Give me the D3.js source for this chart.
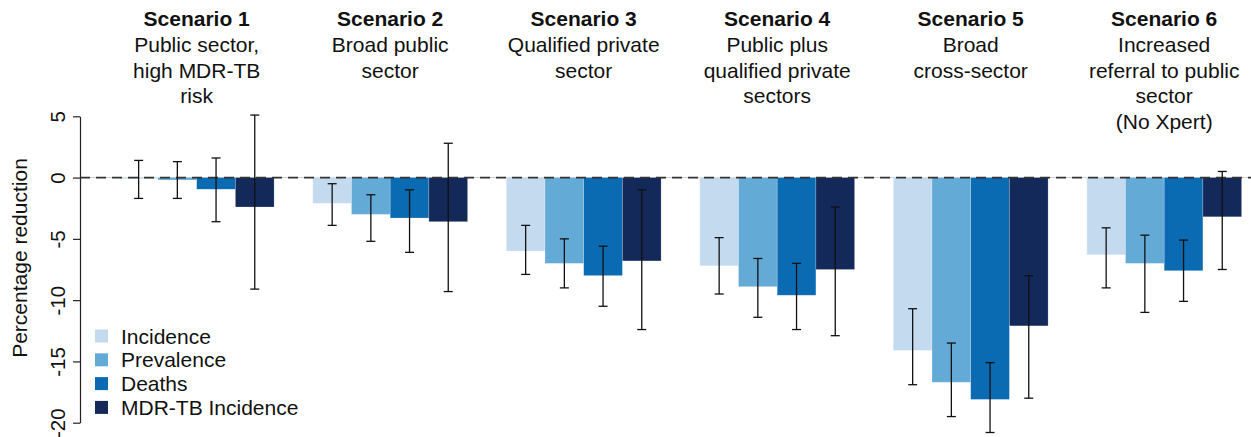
<!DOCTYPE html>
<html>
<head>
<meta charset="utf-8">
<script src="https://cdnjs.cloudflare.com/ajax/libs/d3/7.8.5/d3.min.js"></script>
<style>
  body { margin: 0; background: #fff; }
  svg { display: block; font-family: "Liberation Sans", Arial, sans-serif; }
</style>
</head>
<body>
<div id="chart"></div>
<script>
var scenarios = ["Scenario 1", "Scenario 2", "Scenario 3", "Scenario 4", "Scenario 5", "Scenario 6"];
var subtitles = [
  ["Public sector,", "high MDR-TB", "risk"],
  ["Broad public", "sector"],
  ["Qualified private", "sector"],
  ["Public plus", "qualified private", "sectors"],
  ["Broad", "cross-sector"],
  ["Increased", "referral to public", "sector", "(No Xpert)"]
];
var measures = ["Incidence", "Prevalence", "Deaths", "MDR-TB Incidence"];
var colors = ["#c4dbef", "#63aad7", "#0a6bb2", "#12295a"];

// mean and interval for each measure, one value per scenario
var incidence   = [-0.1, -2.1, -6.0, -7.2, -14.1, -6.3];
var incidenceLo = [-1.7, -3.9, -7.9, -9.5, -16.9, -9.0];
var incidenceHi = [1.4, -0.5, -3.9, -4.9, -10.7, -4.1];
var prevalence   = [-0.2, -3.0, -7.0, -8.9, -16.7, -7.0];
var prevalenceLo = [-1.7, -5.2, -9.0, -11.4, -19.5, -11.0];
var prevalenceHi = [1.3, -1.4, -5.0, -6.6, -13.5, -4.7];
var deaths   = [-0.95, -3.3, -8.0, -9.6, -18.1, -7.6];
var deathsLo = [-3.6, -6.1, -10.5, -12.4, -20.8, -10.1];
var deathsHi = [1.6, -1.0, -5.6, -7.0, -15.1, -5.1];
var mdr   = [-2.4, -3.6, -6.8, -7.5, -12.1, -3.2];
var mdrLo = [-9.1, -9.3, -12.4, -12.9, -18.0, -7.5];
var mdrHi = [5.1, 2.8, -1.0, -2.4, -8.0, 0.5];

var yTicks = [-20, -15, -10, -5, 0, 5];

var width = 1251, height = 437;

var series = [
  {vals: incidence, lo: incidenceLo, hi: incidenceHi},
  {vals: prevalence, lo: prevalenceLo, hi: prevalenceHi},
  {vals: deaths, lo: deathsLo, hi: deathsHi},
  {vals: mdr, lo: mdrLo, hi: mdrHi}
];

var rows = [];
scenarios.forEach(function(s, i) {
  measures.forEach(function(m, j) {
    rows.push({scenario: s, measure: m, idx: j,
               v: series[j].vals[i], lo: series[j].lo[i], hi: series[j].hi[i]});
  });
});

var svg = d3.select("#chart").append("svg")
    .attr("width", width).attr("height", height);

var x0 = d3.scaleBand()
    .domain(scenarios)
    .range([80.6, 1241.6])
    .paddingInner(0.2)
    .paddingOuter(0.1)
    .align(1);

var x1 = d3.scaleBand()
    .domain(measures)
    .range([0, x0.bandwidth()]);

var y = d3.scaleLinear()
    .domain([-20, 5])
    .range([422.7, 116.3]);

// zero reference line
svg.append("line")
    .attr("x1", 80).attr("x2", width)
    .attr("y1", y(0)).attr("y2", y(0))
    .attr("stroke", "#d0d0d0").attr("stroke-width", 1);

// bars
svg.selectAll(".bar")
    .data(rows)
    .enter().append("rect")
    .attr("class", "bar")
    .attr("x", function(d) { return x0(d.scenario) + x1(d.measure); })
    .attr("width", x1.bandwidth())
    .attr("y", function(d) { return y(Math.max(0, d.v)); })
    .attr("height", function(d) { return Math.abs(y(d.v) - y(0)); })
    .attr("fill", function(d) { return colors[d.idx]; })
    .attr("stroke", "#ffffff").attr("stroke-opacity", 0.35).attr("stroke-width", 0.6);

svg.append("line")
    .attr("x1", 80).attr("x2", width)
    .attr("y1", y(0)).attr("y2", y(0))
    .attr("stroke", "#333").attr("stroke-width", 1.8)
    .attr("stroke-dasharray", "10,6");

// error bars
var err = svg.selectAll(".err")
    .data(rows)
    .enter().append("g")
    .attr("class", "err")
    .attr("transform", function(d) {
      return "translate(" + (x0(d.scenario) + x1(d.measure) + x1.bandwidth() / 2) + ",0)";
    })
    .attr("stroke", "#111").attr("stroke-width", 1.3);

err.append("line")
    .attr("y1", function(d) { return y(d.lo); })
    .attr("y2", function(d) { return y(d.hi); });
err.append("line")
    .attr("x1", -4.5).attr("x2", 4.5)
    .attr("y1", function(d) { return y(d.lo); })
    .attr("y2", function(d) { return y(d.lo); });
err.append("line")
    .attr("x1", -4.5).attr("x2", 4.5)
    .attr("y1", function(d) { return y(d.hi); })
    .attr("y2", function(d) { return y(d.hi); });

// y axis
var yAxis = svg.append("g")
    .attr("transform", "translate(80,0)")
    .call(d3.axisLeft(y).tickValues(yTicks).tickSize(7).tickSizeOuter(0)
          .tickFormat(function(d) { return String(d); }));
yAxis.select(".domain").attr("stroke", "#222").attr("stroke-width", 1.2);
yAxis.selectAll(".tick line").attr("stroke", "#222").attr("stroke-width", 1.2);
yAxis.selectAll(".tick text")
    .attr("x", null).attr("dy", null)
    .attr("text-anchor", "middle")
    .attr("transform", "translate(-15.5,0) rotate(-90)")
    .attr("font-size", 20.5).attr("fill", "#111")
    .attr("font-family", "Liberation Sans, Arial, sans-serif");

svg.append("text")
    .attr("transform", "translate(27," + 258 + ") rotate(-90)")
    .attr("text-anchor", "middle")
    .attr("font-size", 21).attr("fill", "#111")
    .text("Percentage reduction");

// scenario titles
var titles = svg.selectAll(".title")
    .data(scenarios)
    .enter().append("text")
    .attr("class", "title")
    .attr("text-anchor", "middle")
    .attr("font-size", 21).attr("fill", "#111")
    .attr("x", function(d) { return x0(d) + x0.bandwidth() / 2; })
    .attr("y", 26);

titles.append("tspan")
    .attr("font-weight", "bold")
    .text(function(d) { return d; });

titles.each(function(d, i) {
  var t = d3.select(this);
  subtitles[i].forEach(function(line) {
    t.append("tspan")
      .attr("x", x0(d) + x0.bandwidth() / 2)
      .attr("dy", 25.8)
      .text(line);
  });
});

// legend
var legend = svg.selectAll(".legend")
    .data(measures)
    .enter().append("g")
    .attr("class", "legend")
    .attr("transform", function(d, i) { return "translate(95," + (336 + i * 23.8) + ")"; });

legend.append("rect")
    .attr("x", 0).attr("y", -6.5)
    .attr("width", 13).attr("height", 13)
    .attr("fill", function(d, i) { return colors[i]; });

legend.append("text")
    .attr("x", 26).attr("y", 7.5)
    .attr("font-size", 21).attr("fill", "#111")
    .text(function(d) { return d; });
</script>
</body>
</html>
